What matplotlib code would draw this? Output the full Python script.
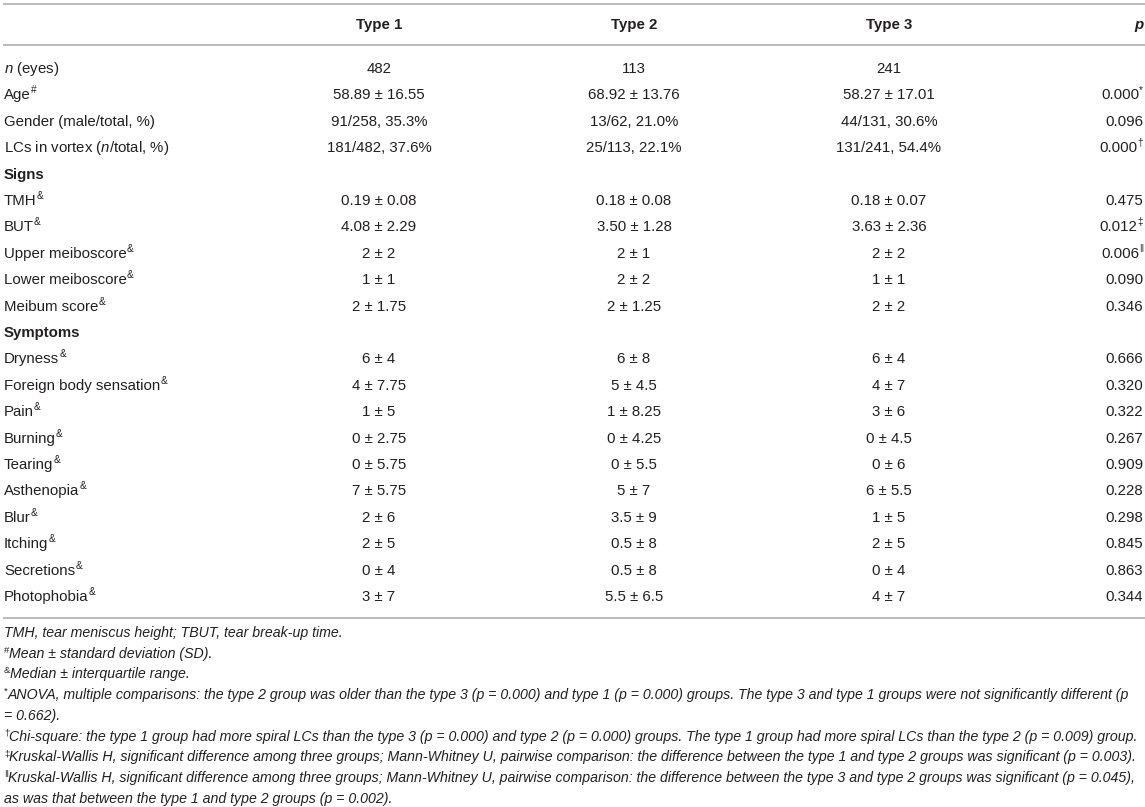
import matplotlib
matplotlib.use("Agg")
import matplotlib.pyplot as plt

plt.rcParams['font.family'] = ['Liberation Sans', 'DejaVu Sans']
plt.rcParams['mathtext.fontset'] = 'custom'
plt.rcParams['mathtext.rm'] = 'Liberation Sans'
plt.rcParams['mathtext.it'] = 'Liberation Sans:italic'
plt.rcParams['mathtext.bf'] = 'Liberation Sans:bold'

# table content
headers = ["Type 1", "Type 2", "Type 3"]
labels = [r"$\mathit{n}$ (eyes)", "Age", "Gender (male/total, %)",
          r"LCs in vortex ($\mathit{n}$/total, %)", "Signs", "TMH", "BUT",
          "Upper meiboscore", "Lower meiboscore", "Meibum score", "Symptoms",
          "Dryness", "Foreign body sensation", "Pain", "Burning", "Tearing",
          "Asthenopia", "Blur", "Itching", "Secretions", "Photophobia"]
label_marks = ["", "#", "", "", "", "&", "&", "&", "&", "&", "",
               "&", "&", "&", "&", "&", "&", "&", "&", "&", "&"]
section_rows = ["Signs", "Symptoms"]
type1 = ["482", "58.89 ± 16.55", "91/258, 35.3%", "181/482, 37.6%", "",
         "0.19 ± 0.08", "4.08 ± 2.29", "2 ± 2", "1 ± 1", "2 ± 1.75", "",
         "6 ± 4", "4 ± 7.75", "1 ± 5", "0 ± 2.75", "0 ± 5.75", "7 ± 5.75",
         "2 ± 6", "2 ± 5", "0 ± 4", "3 ± 7"]
type2 = ["113", "68.92 ± 13.76", "13/62, 21.0%", "25/113, 22.1%", "",
         "0.18 ± 0.08", "3.50 ± 1.28", "2 ± 1", "2 ± 2", "2 ± 1.25", "",
         "6 ± 8", "5 ± 4.5", "1 ± 8.25", "0 ± 4.25", "0 ± 5.5", "5 ± 7",
         "3.5 ± 9", "0.5 ± 8", "0.5 ± 8", "5.5 ± 6.5"]
type3 = ["241", "58.27 ± 17.01", "44/131, 30.6%", "131/241, 54.4%", "",
         "0.18 ± 0.07", "3.63 ± 2.36", "2 ± 2", "1 ± 1", "2 ± 2", "",
         "6 ± 4", "4 ± 7", "3 ± 6", "0 ± 4.5", "0 ± 6", "6 ± 5.5",
         "1 ± 5", "2 ± 5", "0 ± 4", "4 ± 7"]
pvals = ["", "0.000", "0.096", "0.000", "", "0.475", "0.012", "0.006",
         "0.090", "0.346", "", "0.666", "0.320", "0.322", "0.267", "0.909",
         "0.228", "0.298", "0.845", "0.863", "0.344"]
p_marks = ["", "*", "", "†", "", "", "‡", "‖", "", "", "",
           "", "", "", "", "", "", "", "", "", ""]

note_marks = ["", "#", "&", "*", "", "†", "‡", "‖", ""]
footnotes = [
    "TMH, tear meniscus height; TBUT, tear break-up time.",
    "Mean ± standard deviation (SD).",
    "Median ± interquartile range.",
    "ANOVA, multiple comparisons: the type 2 group was older than the type 3 (p = 0.000) and type 1 (p = 0.000) groups. The type 3 and type 1 groups were not significantly different (p",
    "= 0.662).",
    "Chi-square: the type 1 group had more spiral LCs than the type 3 (p = 0.000) and type 2 (p = 0.000) groups. The type 1 group had more spiral LCs than the type 2 (p = 0.009) group.",
    "Kruskal-Wallis H, significant difference among three groups; Mann-Whitney U, pairwise comparison: the difference between the type 1 and type 2 groups was significant (p = 0.003).",
    "Kruskal-Wallis H, significant difference among three groups; Mann-Whitney U, pairwise comparison: the difference between the type 3 and type 2 groups was significant (p = 0.045),",
    "as was that between the type 1 and type 2 groups (p = 0.002).",
]

W, H = 1145, 807
fig = plt.figure(figsize=(W / 100, H / 100), dpi=100)
ax = fig.add_axes([0, 0, 1, 1])
ax.set_xlim(0, W)
ax.set_ylim(H, 0)
ax.axis("off")

txt = "#231f20"
line_c = "#b4b4b4"
fs = 10.8
fs_sup = 7.2
fs_note = 10.2

col_x = [379, 634, 889]
p_x = 1143
label_x = 4
row0, row_h = 68, 26.4
base = 5
raise_ = 6

# rules
for y in [4, 45, 618]:
    ax.plot([3, W], [y, y], color=line_c, lw=1.3, solid_capstyle="butt")

# header
for x, h in zip(col_x, headers):
    ax.text(x, 24 + base, h, ha="center", va="baseline", fontsize=fs,
            fontweight="bold", color=txt)
ax.text(p_x, 24 + base, "p", ha="right", va="baseline", fontsize=fs,
        fontweight="bold", fontstyle="italic", color=txt)

# body
for i, lab in enumerate(labels):
    y = row0 + row_h * i + base
    if lab in section_rows:
        ax.text(label_x, y, lab, ha="left", va="baseline", fontsize=fs,
                fontweight="bold", color=txt)
        continue
    t = ax.text(label_x, y, lab, ha="left", va="baseline", fontsize=fs, color=txt)
    if label_marks[i]:
        ax.annotate(label_marks[i], xy=(1, y - raise_), xycoords=(t, "data"),
                    ha="left", va="baseline", fontsize=fs_sup, color=txt)
    for x, col in zip(col_x, [type1, type2, type3]):
        ax.text(x, y, col[i], ha="center", va="baseline", fontsize=fs, color=txt)
    if pvals[i]:
        if p_marks[i]:
            m = ax.text(p_x, y - raise_, p_marks[i], ha="right", va="baseline",
                        fontsize=fs_sup, color=txt)
            ax.annotate(pvals[i], xy=(0, y), xycoords=(m, "data"), ha="right",
                        va="baseline", fontsize=fs, color=txt)
        else:
            ax.text(p_x, y, pvals[i], ha="right", va="baseline", fontsize=fs,
                    color=txt)

# footnotes
note0, note_h = 632, 20.7
for j, note in enumerate(footnotes):
    y = note0 + note_h * j + 5
    if note_marks[j]:
        m = ax.text(label_x, y - 5, note_marks[j], ha="left", va="baseline",
                    fontsize=6.8, color=txt)
        ax.annotate(note, xy=(1, y), xycoords=(m, "data"), ha="left",
                    va="baseline", fontsize=fs_note, fontstyle="italic", color=txt)
    else:
        ax.text(label_x, y, note, ha="left", va="baseline", fontsize=fs_note,
                fontstyle="italic", color=txt)

fig.savefig("out.png", dpi=100, facecolor="white")
